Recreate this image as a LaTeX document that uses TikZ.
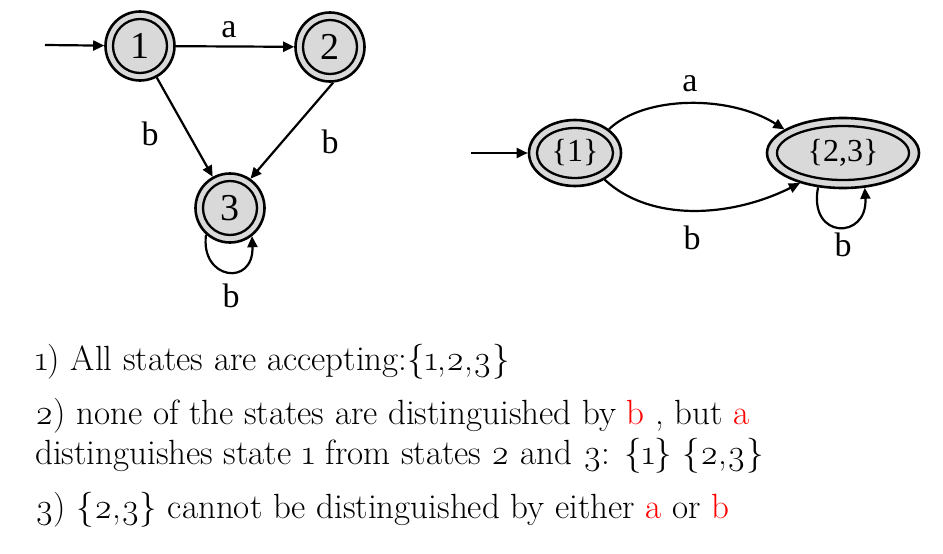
\documentclass[tikz,border=0pt]{standalone}
\usepackage{fontspec}
\setmainfont{Latin Modern Roman}
\newfontfamily\timesf{Liberation Serif}
\usetikzlibrary{arrows.meta,shapes.geometric}
\definecolor{stfill}{HTML}{D9D9D9}
\definecolor{redt}{HTML}{FF0000}
\tikzset{
  outerst/.style={circle,draw,line width=2.6pt,fill=stfill,minimum size=69pt,inner sep=0pt},
  innerst/.style={circle,draw,line width=2.3pt,minimum size=54pt,inner sep=0pt,font=\timesf\fontsize{38}{38}\selectfont},
  outerel/.style={ellipse,draw,line width=2.6pt,fill=stfill,inner sep=0pt},
  innerel/.style={ellipse,draw,line width=2.3pt,inner sep=0pt,font=\timesf\fontsize{32}{32}\selectfont},
  edge/.style={line width=2.2pt,-{Triangle[length=11pt,width=10pt]}},
  lbl/.style={font=\timesf\fontsize{34}{34}\selectfont,inner sep=0pt},
  txt/.style={anchor=base west,inner sep=0pt,font=\fontsize{35}{35}\selectfont}
}
\newcommand{\os}[1]{\oldstylenums{#1}}
\begin{document}
\begin{tikzpicture}[x=1pt,y=-1pt]
\useasboundingbox (0,0) rectangle (943,554);
% left DFA
\node[outerst] (s1) at (140,46) {};
\node[innerst] (i1) at (s1) {1};
\node[outerst] (s2) at (330,47) {};
\node[innerst] (i2) at (s2) {2};
\node[outerst] (s3) at (230,208) {};
\node[innerst] (i3) at (s3) {3};
\coordinate (st1) at (45,45);
\draw[edge] (st1) -- (s1);
\draw[edge] (s1) -- (s2);
\node[lbl] (la) at (229,30) {a};
\draw[edge] (s1.-62) -- (s3.119);
\node[lbl] (lb1) at (150,134) {b};
\draw[edge] (s2.-85) -- (s3.55);
\node[lbl] (lb2) at (330,142) {b};
\draw[edge] (s3.-132) .. controls (200,280) and (254,287) .. (s3.-52);
\node[lbl] (lb3) at (231,296) {b};
% right DFA
\node[outerel,minimum width=92pt,minimum height=66pt] (e1) at (575,153) {};
\node[innerel,minimum width=76pt,minimum height=50pt] (ie1) at (e1) {\{1\}};
\node[outerel,minimum width=152pt,minimum height=70pt] (e2) at (843,153) {};
\node[innerel,minimum width=132pt,minimum height=54pt] (ie2) at (e2) {\{2,3\}};
\coordinate (st2) at (471,153);
\draw[edge] (st2) -- (e1);
\draw[edge] (e1.35) .. controls (645,95) and (730,95) .. (e2.158);
\node[lbl] (la2) at (690,84) {a};
\draw[edge] (e1.-42) .. controls (650,222) and (730,218) .. (e2.-145);
\node[lbl] (lb4) at (692,238) {b};
\draw[edge] (e2.-126) .. controls (808,240) and (868,240) .. (e2.-58);
\node[lbl] (lb5) at (843,245) {b};
% text
\node[txt] (t1) at (35,370) {\os{1}) All states are accepting:\{\os{1},\os{2},\os{3}\}};
\node[txt] (t2) at (35,424) {\os{2}) none of the states are distinguished by \textcolor{redt}{b} , but \textcolor{redt}{a}};
\node[txt] (t3) at (35,464) {distinguishes state \os{1} from states \os{2} and \os{3}: \{\os{1}\} \{\os{2},\os{3}\}};
\node[txt] (t4) at (35,518) {\os{3}) \{\os{2},\os{3}\} cannot be distinguished by either \textcolor{redt}{a} or \textcolor{redt}{b}};
\end{tikzpicture}
\end{document}
